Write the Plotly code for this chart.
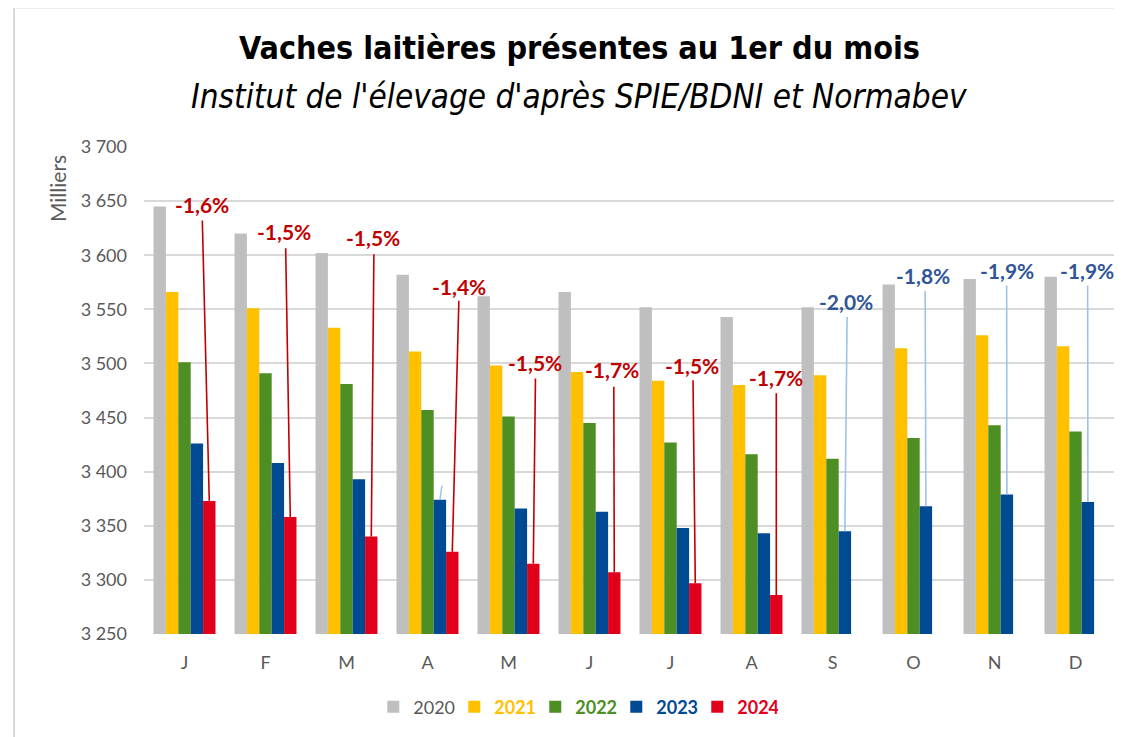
import plotly.graph_objects as go

# ---- data ----
months = ["J", "F", "M", "A", "M", "J", "J", "A", "S", "O", "N", "D"]
years = ["2020", "2021", "2022", "2023", "2024"]
v2020 = [3645, 3620, 3602, 3582, 3562, 3566, 3552, 3543, 3552, 3573, 3578, 3580]
v2021 = [3566, 3551, 3533, 3511, 3498, 3492, 3484, 3480, 3489, 3514, 3526, 3516]
v2022 = [3501, 3491, 3481, 3457, 3451, 3445, 3427, 3416, 3412, 3431, 3443, 3437]
v2023 = [3426, 3408, 3393, 3374, 3366, 3363, 3348, 3343, 3345, 3368, 3379, 3372]
v2024 = [3373, 3358, 3340, 3326, 3315, 3307, 3297, 3286, None, None, None, None]
pct_labels = ["-1,6%", "-1,5%", "-1,5%", "-1,4%", "-1,5%", "-1,7%", "-1,5%", "-1,7%",
              "-2,0%", "-1,8%", "-1,9%", "-1,9%"]
y_ticks = [3250, 3300, 3350, 3400, 3450, 3500, 3550, 3600, 3650, 3700]

# ---- layout helpers (positions, not data) ----
colors = ["#BFBFBF", "#FFC000", "#4E8F23", "#004A94", "#E0001B"]
legend_colors = ["#595959", "#FFC000", "#4E8F23", "#004A94", "#E0001B"]
label_dx = [0.216, 0.231, 0.329, 0.387, 0.321, 0.283, 0.27, 0.298, 0.17, 0.121, 0.15, 0.146]
line_dx = [0.22, 0.249, 0.338, 0.387, 0.333, 0.3, 0.278, 0.306, 0.18, 0.144, 0.15, 0.15]
label_y = [3647, 3621.5, 3616, 3571, 3500.5, 3494, 3498.5, 3487, 3557, 3581.5, 3586, 3586]
line_top = [3632, 3606.5, 3601, 3558, 3486, 3478.5, 3484.5, 3472.5, 3543, 3567, 3572, 3572]

BARGAP = 0.235
bw = (1 - BARGAP) / 5
def offset(i):
    return -(1 - BARGAP) / 2 + bw * (i + 0.5)

series = [v2020, v2021, v2022, v2023, v2024]
xs = list(range(len(months)))

fig = go.Figure()
for i, (yr, vals) in enumerate(zip(years, series)):
    label = yr if i == 0 else "<b>%s</b>" % yr
    fig.add_trace(go.Bar(
        x=xs, y=vals,
        name="<span style='color:%s'>%s</span>" % (legend_colors[i], label),
        marker=dict(color=colors[i], line=dict(width=0)),
        hoverinfo="x+y",
    ))

shapes = []
annotations = []
for k in xs:
    if v2024[k] is not None:
        tcol, lcol = "#C00000", "#C00000"
        x_end, y_end = k + offset(4), v2024[k]
    else:
        tcol, lcol = "#2F5597", "#9DC3E6"
        x_end, y_end = k + offset(3), v2023[k]
    shapes.append(dict(type="line", xref="x", yref="y",
                       x0=k + line_dx[k], y0=line_top[k], x1=x_end, y1=y_end,
                       line=dict(color=lcol, width=1.6)))
    annotations.append(dict(x=k + label_dx[k], y=label_y[k], xref="x", yref="y",
                            text="<b>%s</b>" % pct_labels[k], showarrow=False,
                            font=dict(family="Lato", size=21, color=tcol),
                            xanchor="center", yanchor="middle"))

# small stray light-blue tick above the April 2023 bar
shapes.append(dict(type="line", xref="x", yref="y",
                   x0=3 + offset(3), y0=v2023[3], x1=3 + offset(3) + 0.025, y1=v2023[3] + 13,
                   line=dict(color="#9DC3E6", width=1.5)))

# page geometry (browser body margin of 8px compensated)
OFF = 8
W, H = 1114, 729
L, T = 144 - OFF, 147 - OFF
R = W - (1116.5 - OFF)
B = H - (634 - OFF)
pw, ph = W - L - R, H - T - B
def px_x(p):
    return (p - OFF - L) / pw
def px_y(p):
    return (H - B - (p - OFF)) / ph

shapes.append(dict(type="rect", xref="paper", yref="paper",
                   x0=px_x(14), x1=px_x(1119), y0=px_y(740), y1=px_y(7.5),
                   line=dict(color="#D9D9D9", width=2), fillcolor="rgba(0,0,0,0)", layer="below"))

title_font = "Liberation Sans Narrow, DejaVu Sans Condensed"
annotations.append(dict(x=px_x(580), y=px_y(48), xref="paper", yref="paper",
                        text="<b>Vaches laitières présentes au 1er du mois</b>", showarrow=False,
                        font=dict(family=title_font, size=32, color="#000000"),
                        xanchor="center", yanchor="middle"))
annotations.append(dict(x=px_x(579), y=px_y(97), xref="paper", yref="paper",
                        text="<i>Institut de l'élevage d'après SPIE/BDNI et Normabev</i>", showarrow=False,
                        font=dict(family=title_font, size=33, color="#000000"),
                        xanchor="center", yanchor="middle"))
annotations.append(dict(x=px_x(58), y=px_y(189), xref="paper", yref="paper",
                        text="Milliers", showarrow=False, textangle=-90,
                        font=dict(family="Lato", size=21, color="#595959"),
                        xanchor="center", yanchor="middle"))

fig.update_layout(
    width=W, height=H,
    margin=dict(l=L, r=R, t=T, b=B, autoexpand=False),
    paper_bgcolor="white", plot_bgcolor="white",
    barmode="group", bargap=BARGAP, bargroupgap=0,
    separators=", ",
    font=dict(family="Lato", color="#595959"),
    showlegend=True,
    legend=dict(orientation="h", x=px_x(576), xanchor="center", y=px_y(707), yanchor="middle",
                font=dict(family="Lato", size=18), traceorder="normal",
                entrywidth=36, entrywidthmode="pixels",
                itemclick=False, itemdoubleclick=False),
    shapes=shapes, annotations=annotations,
    xaxis=dict(range=[-0.5, 11.5], tickmode="array", tickvals=xs, ticktext=months,
               showgrid=False, zeroline=False, showline=False,
               tickfont=dict(family="Lato", size=18, color="#595959"),
               ticklabelstandoff=16, fixedrange=True),
    yaxis=dict(range=[3250, 3700], tickmode="array", tickvals=y_ticks, tickformat=",d",
               showgrid=True, gridcolor="#D9D9D9", gridwidth=1.5, zeroline=False, showline=False,
               tickfont=dict(family="Lato", size=18, color="#595959"),
               ticklabelstandoff=16, fixedrange=True),
)

fig.write_html("out.html")
